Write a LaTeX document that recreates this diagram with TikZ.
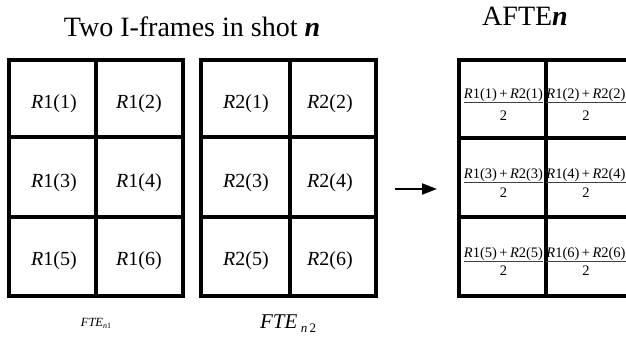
\documentclass[tikz,border=0pt]{standalone}
\usepackage{fontspec}
\setmainfont{Liberation Serif}
\usetikzlibrary{arrows.meta}

% R_k(i) label and the averaged-pair numerator
\newcommand\cellR[2]{\textit{R}#1(#2)}
\newcommand\avgnum[1]{\textit{R}1(#1)\,+\,\textit{R}2(#1)}

\begin{document}
\begin{tikzpicture}[x=1pt,y=-1pt,
  gridline/.style={line width=4pt, line join=miter},
  celltxt/.style={anchor=base, inner sep=0pt, font=\fontsize{20}{20}\selectfont},
  numtxt/.style={anchor=base, inner sep=0pt, font=\fontsize{14.5}{14.5}\selectfont},
  titletxt/.style={anchor=base, inner sep=0pt, font=\fontsize{28}{28}\selectfont},
  fracbar/.style={line width=0.8pt, draw=black!75}]

\useasboundingbox (0,0) rectangle (626,339);
\clip (0,0) rectangle (626,339);

% titles
\node[titletxt] (ttwo) at (192,36.7) {Two I-frames in shot \textbf{\textit{n}}};
\node[titletxt] (tafte) at (525,25.5) {AFTE\textbf{\textit{n}}};

% first I-frame grid
\draw[gridline] (9,60) rectangle (183,296)
  (96,60) -- (96,296) (9,137) -- (183,137) (9,217) -- (183,217);
% second I-frame grid
\draw[gridline] (201,60) rectangle (376,296)
  (290,60) -- (290,296) (201,137) -- (376,137) (201,217) -- (376,217);
% averaged frame grid
\draw[gridline] (459,60) rectangle (633,296)
  (546,60) -- (546,296) (459,138) -- (633,138) (459,217) -- (633,217);

% cell labels of frame 1
\node[celltxt] (a1) at (54,109) {\cellR{1}{1}};
\node[celltxt] (a2) at (139,109) {\cellR{1}{2}};
\node[celltxt] (a3) at (54,188) {\cellR{1}{3}};
\node[celltxt] (a4) at (139,188) {\cellR{1}{4}};
\node[celltxt] (a5) at (54,265) {\cellR{1}{5}};
\node[celltxt] (a6) at (139,265) {\cellR{1}{6}};

% cell labels of frame 2
\node[celltxt] (b1) at (246,109) {\cellR{2}{1}};
\node[celltxt] (b2) at (330,109) {\cellR{2}{2}};
\node[celltxt] (b3) at (246,188) {\cellR{2}{3}};
\node[celltxt] (b4) at (330,188) {\cellR{2}{4}};
\node[celltxt] (b5) at (246,265) {\cellR{2}{5}};
\node[celltxt] (b6) at (330,265) {\cellR{2}{6}};

% averaged cells: numerator, fraction bar, denominator
\foreach \i/\x/\bar/\den in {1/503.5/102.5/120.5, 2/586/102.5/120.5,
                             3/503.5/182/197, 4/586/182/197,
                             5/503.5/261/275.5, 6/586/261/275.5} {
  \node[numtxt] (n\i) at (\x,\bar-3.5) {\avgnum{\i}};
  \draw[fracbar] (n\i.west |- 0,\bar) -- (n\i.east |- 0,\bar);
  \node[numtxt] (d\i) at (\x,\den) {2};
}

% frame labels
\node[anchor=base, inner sep=0pt, font=\fontsize{12.5}{12.5}\selectfont] (fte1) at (96,326)
  {\textit{FTE}\raisebox{-2pt}{\fontsize{8}{8}\selectfont\textit{n}1}};
\node[anchor=base, inner sep=0pt, font=\fontsize{21}{21}\selectfont] (fte2) at (288,328)
  {\textit{FTE}\,\raisebox{-4pt}{\fontsize{13}{13}\selectfont\textit{n}\,2}};

% averaging arrow
\coordinate (arrtail) at (395,189);
\coordinate (arrhead) at (437,189);
\draw[line width=2pt, -{Triangle[length=15pt,width=11pt]}] (arrtail) -- (arrhead);
\end{tikzpicture}
\end{document}
